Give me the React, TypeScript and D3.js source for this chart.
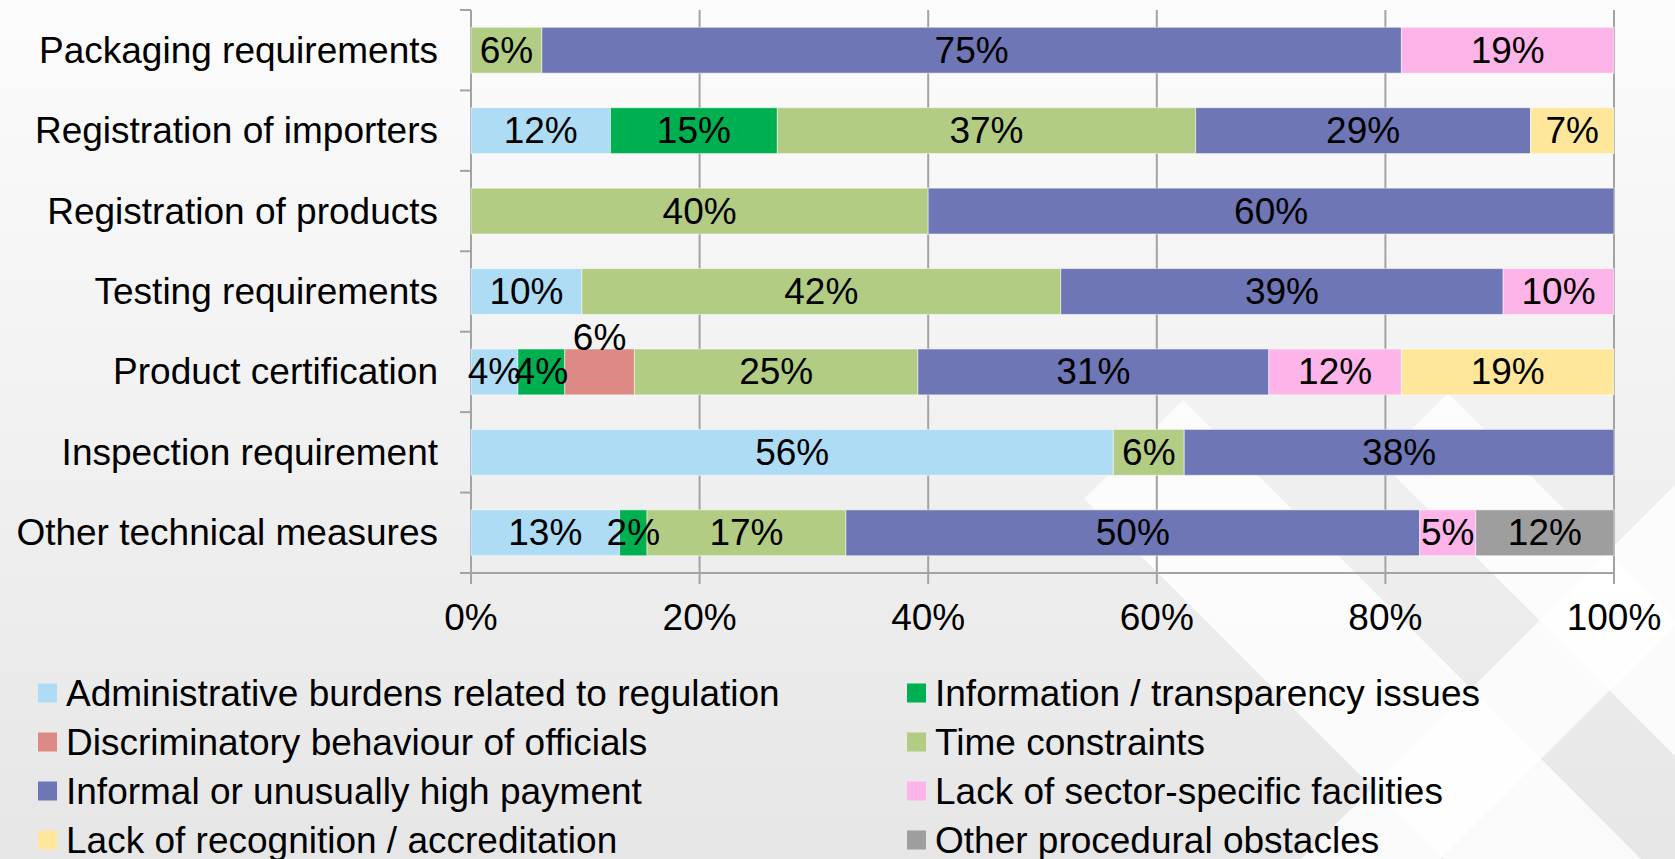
import React from 'react';
import * as d3 from 'd3';

const categories = [
  'Packaging requirements',
  'Registration of importers',
  'Registration of products',
  'Testing requirements',
  'Product certification',
  'Inspection requirement',
  'Other technical measures',
];

const seriesNames = [
  'Administrative burdens related to regulation',
  'Information / transparency issues',
  'Discriminatory behaviour of officials',
  'Time constraints',
  'Informal or unusually high payment',
  'Lack of sector-specific facilities',
  'Lack of recognition / accreditation',
  'Other procedural obstacles',
];

const seriesColors = ['#aedcf5', '#00b050', '#dd8a86', '#b2cd83', '#6e76b5', '#fdb4e8', '#fee79b', '#9e9e9e'];

// share of each obstacle per measure, in percent (order follows categories)
const adminBurdens = [0, 12.2, 0, 9.7, 4.1, 56.2, 13.0];
const infoIssues = [0, 14.6, 0, 0, 4.1, 0, 2.4];
const discrimination = [0, 0, 0, 0, 6.1, 0, 0];
const timeConstraints = [6.2, 36.6, 40, 41.9, 24.8, 6.2, 17.4];
const informalPayment = [75.2, 29.3, 60, 38.7, 30.7, 37.6, 50.2];
const lackFacilities = [18.6, 0, 0, 9.7, 11.6, 0, 4.9];
const lackRecognition = [0, 7.3, 0, 0, 18.6, 0, 0];
const otherProcedural = [0, 0, 0, 0, 0, 0, 12.1];

const seriesValues = [
  adminBurdens, infoIssues, discrimination, timeConstraints,
  informalPayment, lackFacilities, lackRecognition, otherProcedural,
];

const xTicks = [0, 20, 40, 60, 80, 100];

// labels that sit above their bar instead of inside it
const raisedLabels = [['Product certification', 'Discriminatory behaviour of officials']];

// pale diagonal shapes of the slide background
const watermark = [
  'M1183,400 L1084,499 L1444,859 L1641,859 Z',
  'M1301,859 L1675,485 L1675,625 L1441,859 Z',
  'M1448,393 L1380,461 L1675,756 L1675,620 Z',
];

const FONT = '"Liberation Sans", Arial, sans-serif';

export default function App() {
  const W = 1675;
  const H = 859;

  const x = d3.scaleLinear().domain([0, 100]).range([471, 1614]);
  const y = d3.scaleBand().domain(categories).range([10, 573]).paddingInner(0.43).paddingOuter(0.215);
  const bw = y.bandwidth();

  const rows = categories.map((c, i) => {
    const r = { category: c };
    seriesNames.forEach((s, j) => { r[s] = seriesValues[j][i]; });
    return r;
  });
  const stacked = d3.stack().keys(seriesNames)(rows);

  const color = d3.scaleOrdinal(seriesNames, seriesColors);
  const boundaries = d3.range(categories.length + 1).map(i => 10 + i * y.step());

  const legendRows = [693, 742, 791, 840];
  const legendCols = [38, 907];

  return (
    <svg width={W} height={H} style={{ position: 'absolute', left: 0, top: 0 }} fontFamily={FONT}>
      <defs>
        <linearGradient id="bg" x1="0" y1="0" x2="0" y2="1">
          <stop offset="0%" stopColor="#fcfcfc" />
          <stop offset="100%" stopColor="#e6e6e6" />
        </linearGradient>
      </defs>
      <rect width={W} height={H} fill="url(#bg)" />
      <g fill="#ffffff" fillOpacity={0.8}>
        {watermark.map((d, i) => <path key={i} d={d} />)}
      </g>

      {/* grid */}
      <g stroke="#a3a3a3" strokeWidth={2}>
        {xTicks.map(t => (
          <line key={t} x1={x(t)} x2={x(t)} y1={10} y2={584} />
        ))}
        <line x1={460} x2={x(100)} y1={573} y2={573} />
        {boundaries.map((b, i) => (
          <line key={i} x1={460} x2={471} y1={b} y2={b} />
        ))}
      </g>

      {/* bars */}
      {stacked.map(layer => (
        <g key={layer.key} fill={color(layer.key)}>
          {layer.map((d, i) => (d[1] - d[0] > 0 ? (
            <rect
              key={i}
              x={x(d[0])}
              y={y(categories[i])}
              width={x(d[1]) - x(d[0])}
              height={bw}
              stroke="#ffffff"
              strokeOpacity={0.5}
              strokeWidth={1}
            />
          ) : null))}
        </g>
      ))}

      {/* value labels */}
      <g fontSize={37} fill="#000" textAnchor="middle">
        {stacked.map(layer => layer.map((d, i) => {
          const v = d[1] - d[0];
          if (v <= 0) return null;
          const raised = raisedLabels.some(([c, s]) => c === categories[i] && s === layer.key);
          const cy = raised ? y(categories[i]) - 12 : y(categories[i]) + bw / 2;
          return (
            <text key={layer.key + i} x={(x(d[0]) + x(d[1])) / 2} y={cy} dominantBaseline="central">
              {Math.round(v)}%
            </text>
          );
        }))}
      </g>

      {/* category labels */}
      <g fontSize={37} fill="#000" textAnchor="end">
        {categories.map(c => (
          <text key={c} x={438} y={y(c) + bw / 2} dominantBaseline="central">{c}</text>
        ))}
      </g>

      {/* x tick labels */}
      <g fontSize={37} fill="#000" textAnchor="middle">
        {xTicks.map(t => (
          <text key={t} x={x(t)} y={617} dominantBaseline="central">{t}%</text>
        ))}
      </g>

      {/* legend */}
      <g fontSize={37} fill="#000">
        {seriesNames.map((s, i) => {
          const cx = legendCols[i % 2];
          const cy = legendRows[Math.floor(i / 2)];
          return (
            <g key={s}>
              <rect x={cx} y={cy - 9.5} width={19} height={19} fill={color(s)} />
              <text x={cx + 28} y={cy} dominantBaseline="central">{s}</text>
            </g>
          );
        })}
      </g>
    </svg>
  );
}
